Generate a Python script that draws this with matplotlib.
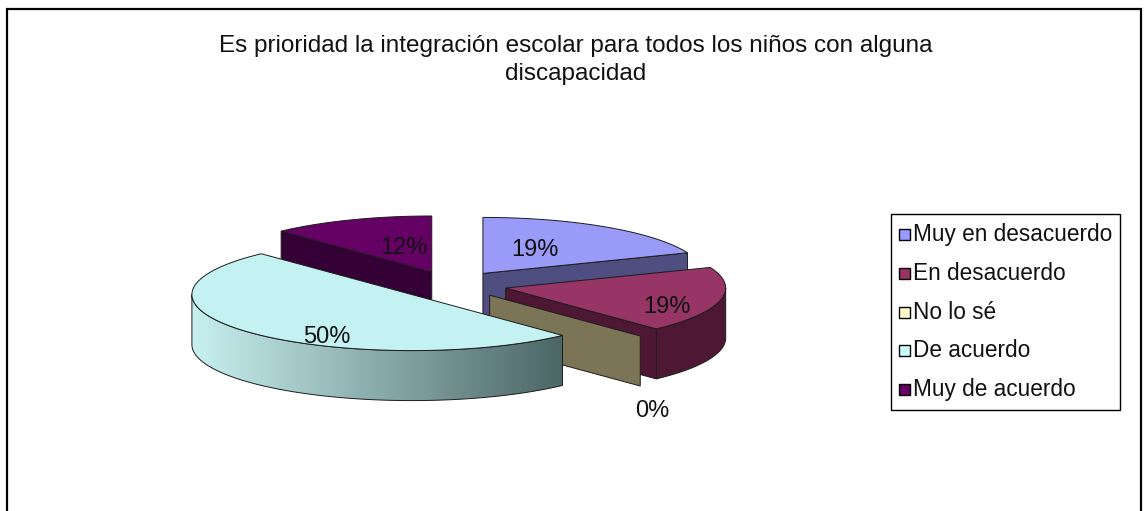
import numpy as np
import matplotlib
matplotlib.use("Agg")
import matplotlib.pyplot as plt
from matplotlib.patches import Polygon, Rectangle

# ---- data -------------------------------------------------------------
categories = ["Muy en desacuerdo", "En desacuerdo", "No lo sé", "De acuerdo", "Muy de acuerdo"]
shares = [19, 19, 0, 50, 12]
pct_labels = ["19%", "19%", "0%", "50%", "12%"]
title = "Es prioridad la integración escolar para todos los niños con alguna\ndiscapacidad"

# ---- style ------------------------------------------------------------
legend_colors = ["#9999FF", "#993366", "#FFFFCC", "#CCFFFF", "#660066"]
top_colors = ["#9A9AF8", "#973566", "#F6F6C8", "#C4F2F2", "#650065"]
side_colors = ["#4E4E80", "#4E1733", "#7B7457", None, "#350035"]
grad_left = np.array([200, 240, 240]) / 255
grad_right = np.array([76, 102, 102]) / 255
edge = "#1c1c1c"

FONT = ["Liberation Sans", "DejaVu Sans"]
W, H = 1147, 511
CX, CY = 452, 285          # pie centre (px)
RX, RY = 220, 56           # projected radii (px)
DEPTH = 50                 # pie thickness (px)
EXPLODE = 0.25             # slice offset, fraction of radius
label_frac = [0.42, 0.75, 1.08, 0.53, 0.34]
label_dy = [-4, 10, 0, 22, -6]

fig = plt.figure(figsize=(W / 100, H / 100), dpi=100)
ax = fig.add_axes([0, 0, 1, 1])
ax.set_xlim(0, W)
ax.set_ylim(H, 0)
ax.axis("off")


def rim(apex, t, z=0.0, r=1.0):
    a = np.radians(t)
    return (apex[0] + r * RX * np.sin(a), apex[1] - r * RY * np.cos(a) + z)


def arc(apex, t0, t1, z=0.0):
    n = max(2, int(abs(t1 - t0) / 1.0) + 2)
    return [rim(apex, t, z) for t in np.linspace(t0, t1, n)]


total = float(sum(shares))
bounds = np.concatenate([[0.0], np.cumsum(shares) / total * 360.0])

slices = []
for i, v in enumerate(shares):
    a0, a1 = bounds[i], bounds[i + 1]
    mid = 0.5 * (a0 + a1)
    apex = rim((CX, CY), mid, r=EXPLODE)
    apex_b = (apex[0], apex[1] + DEPTH)
    parts = []
    # outer wall (front half only)
    lo, hi = max(a0, 90.0), min(a1, 270.0)
    if hi > lo:
        poly = arc(apex, lo, hi) + arc(apex, hi, lo, DEPTH)
        parts.append(("wall", poly))
    # radial cut faces facing the viewer
    if np.cos(np.radians(a0 - 90)) < -1e-6:
        parts.append(("face", [apex, rim(apex, a0), rim(apex, a0, DEPTH), apex_b]))
    if np.cos(np.radians(a1 + 90)) < -1e-6:
        parts.append(("face", [apex, rim(apex, a1), rim(apex, a1, DEPTH), apex_b]))
    if a1 > a0:
        parts.append(("top", [apex] + arc(apex, a0, a1)))
    ys = [p[1] for _, poly in parts for p in poly]
    slices.append((max(ys), i, apex, mid, parts))

slices.sort(key=lambda s: s[0])
z = 2
for _, i, apex, mid, parts in slices:
    for kind, poly in parts:
        if kind == "top":
            ax.add_patch(Polygon(poly, closed=True, facecolor=top_colors[i],
                                 edgecolor=edge, lw=0.7, zorder=z))
        elif side_colors[i] is None:
            # shaded wall: horizontal gradient clipped to the wall outline
            pts = np.array(poly)
            x0, x1 = pts[:, 0].min(), pts[:, 0].max()
            y0, y1 = pts[:, 1].min(), pts[:, 1].max()
            t = np.linspace(0, 1, 256)[None, :, None]
            img = grad_left * (1 - t) + grad_right * t
            patch = Polygon(poly, closed=True, facecolor="none",
                            edgecolor=edge, lw=0.7, zorder=z + 0.5)
            im = ax.imshow(img, extent=(x0, x1, y1, y0), aspect="auto",
                           interpolation="bilinear", zorder=z)
            ax.add_patch(patch)
            im.set_clip_path(patch)
        else:
            ax.add_patch(Polygon(poly, closed=True, facecolor=side_colors[i],
                                 edgecolor=edge, lw=0.7, zorder=z))
        z += 1

# percentage labels
for i, v in enumerate(shares):
    a0, a1 = bounds[i], bounds[i + 1]
    mid = 0.5 * (a0 + a1)
    apex = rim((CX, CY), mid, r=EXPLODE)
    lx, ly = rim(apex, mid, r=label_frac[i])
    if v == 0:
        ly += DEPTH + 22
    ax.text(lx, ly + label_dy[i], pct_labels[i], ha="center", va="center",
            fontsize=17, color="#111111", family=FONT, zorder=100)

# title
ax.text(576, 60, title, ha="center", va="center", fontsize=17.5,
        color="#111111", family=FONT, linespacing=1.3, zorder=100)

# legend
lx0, ly0, lw_, lh_ = 891, 214, 229, 196
ax.add_patch(Rectangle((lx0, ly0), lw_, lh_, facecolor="white",
                       edgecolor="black", lw=1.0, zorder=50))
for k, name in enumerate(categories):
    yy = 235 + 38.6 * k
    ax.add_patch(Rectangle((899, yy - 5.5), 11, 11, facecolor=legend_colors[k],
                           edgecolor="black", lw=1.0, zorder=51))
    ax.text(913, yy, name, ha="left", va="center", fontsize=16.3,
            color="#111111", family=FONT, zorder=52)

# chart frame
ax.plot([7, 7, 1141, 1141], [H + 2, 9.5, 9.5, H + 2], color="black",
        lw=1.6, solid_joinstyle="miter", zorder=60, clip_on=False)

fig.savefig("out.png", dpi=100, facecolor="white")
